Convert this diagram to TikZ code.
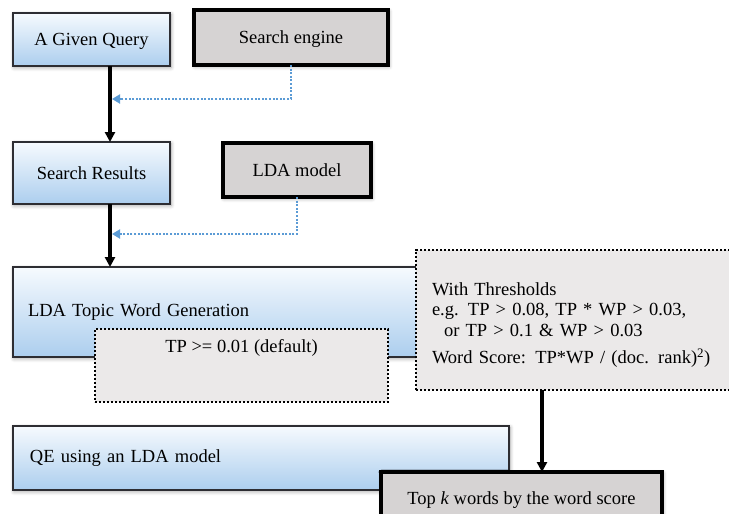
\documentclass[tikz,border=0pt]{standalone}
\usepackage{fontspec}
\setmainfont{Liberation Serif}
\usetikzlibrary{arrows.meta,shadows.blur}

\definecolor{edgeblue}{RGB}{91,155,213}
\definecolor{boxgray}{RGB}{214,211,211}
\definecolor{notegray}{RGB}{235,233,233}
\definecolor{skytop}{RGB}{246,250,254}
\definecolor{skybottom}{RGB}{172,206,238}
\definecolor{rim}{RGB}{45,45,50}

\tikzset{
  base/.style={font=\fontsize{18.5}{20.5}\selectfont, inner sep=0pt, outer sep=0pt, anchor=north west},
  midtext/.style={text height=12pt, text depth=0pt},
  softshadow/.style={blur shadow={shadow xshift=1pt, shadow yshift=-1.5pt, shadow blur radius=4pt, shadow blur steps=8, shadow opacity=35}},
  stagebox/.style={base, draw=rim, line width=1.6pt, top color=skytop, bottom color=skybottom, softshadow},
  sourcebox/.style={base, draw=black, line width=3.6pt, fill=boxgray, softshadow},
  notebox/.style={base, draw=black, line width=2.2pt, dash pattern=on 2.2pt off 1.8pt, fill=notegray},
  flow/.style={line width=3.2pt, -{Triangle[width=10pt,length=10pt]}},
  feed/.style={edgeblue, line width=2pt, dash pattern=on 2pt off 1.6pt, shorten >=2pt, -{Triangle[width=9pt,length=8pt]}},
}

\begin{document}
\begin{tikzpicture}[x=1pt,y=-1pt]
\useasboundingbox (0,0) rectangle (729,514);
\clip (0,0) rectangle (729,514);

% junctions where the side inputs join the main flow
\coordinate (j1) at (110,99);
\coordinate (j2) at (110,234);
\coordinate (j3) at (542,430);

% query stage
\node[stagebox, midtext, minimum width=157pt, minimum height=53pt] (query) at (13,13) {A Given Query};
\node[sourcebox, midtext, minimum width=194pt, minimum height=55pt] (engine) at (194,10) {Search engine};

% search results stage
\node[stagebox, midtext, minimum width=157pt, minimum height=62pt] (results) at (13,142) {Search Results};
\node[sourcebox, midtext, minimum width=148pt, minimum height=54pt] (ldamodel) at (223,143) {LDA model};

% topic word generation stage
\node[stagebox, minimum width=417pt, minimum height=90pt, text width=387pt, align=left] (topics) at (13,267) {LDA Topic Word Generation};
\node[notebox, minimum width=293pt, minimum height=73pt, text height=12pt, text depth=38pt, align=center] (default) at (95,329) {TP >= 0.01 (default)};
\node[notebox, minimum width=345pt, minimum height=140pt, text width=313pt, align=left] (thresholds) at (416,250)
  {\rule{0pt}{22.5pt}With Thresholds\\
   e.g. TP > 0.08, TP * WP > 0.03,\\
   \hspace*{12pt}or TP > 0.1 \& WP > 0.03\\[7pt]
   Word Score: TP*WP / (doc. rank)\textsuperscript{2})};

% query expansion stage
\node[stagebox, minimum width=496pt, minimum height=64pt, text width=462pt, align=left] (expansion) at (13,426) {QE using an LDA model};
\node[sourcebox, midtext, minimum width=281pt, minimum height=52pt] (topk) at (381,472) {Top \textit{k} words by the word score};

% main flow
\draw[flow] (query.south -| j1) -- (results.north -| j1);
\draw[flow] (results.south -| j2) -- (topics.north -| j2);
\draw[flow] (thresholds.south -| j3) -- (topk.north -| j3);

% side inputs
\draw[feed] (engine.south) |- (j1);
\draw[feed] (ldamodel.south) |- (j2);
\end{tikzpicture}
\end{document}
